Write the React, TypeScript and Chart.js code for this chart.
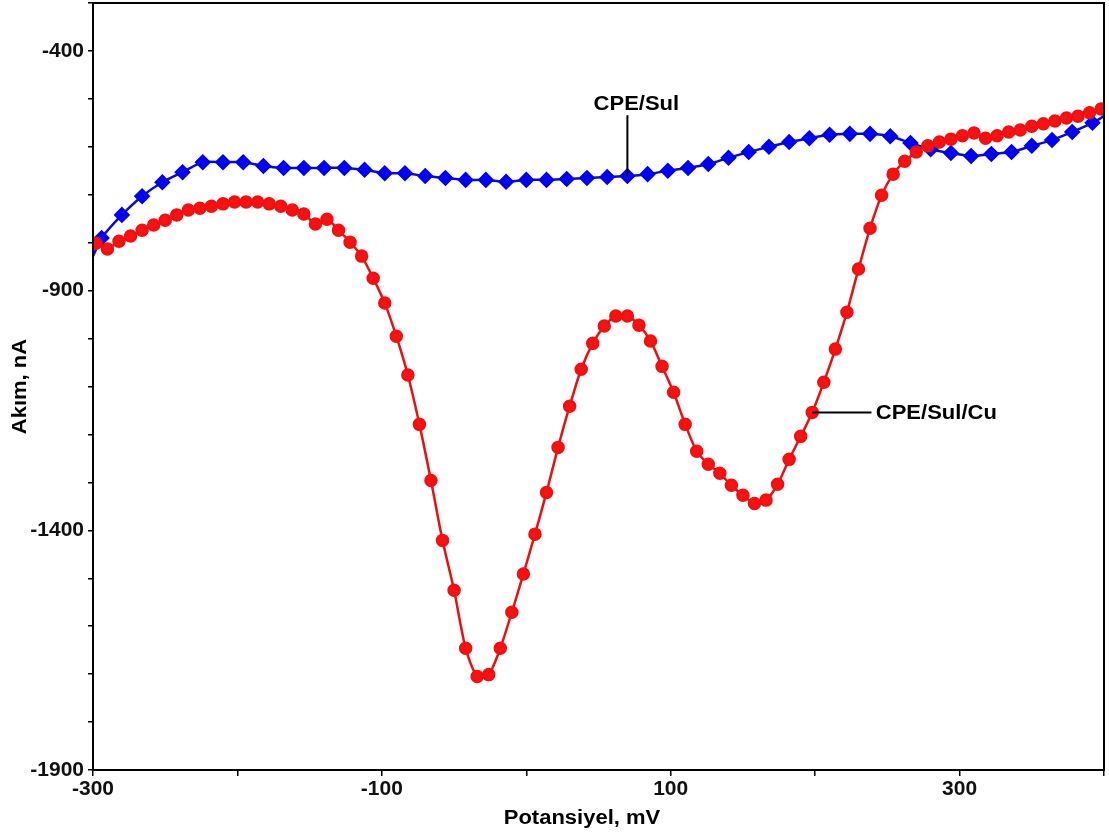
import React, { useEffect, useRef } from "react";
import { Chart, registerables } from "chart.js";

Chart.register(...registerables);

// CPE/Sul/Cu (red, circles)
const cuX = [
  -298, -290, -282, -274, -266, -258, -250, -242, -234, -226, -218, -210, -202, -194, -186, -178, -170, -162, -154, -146,
  -138, -130, -122, -114, -106, -98, -90, -82, -74, -66, -58, -50, -42, -34, -26, -18, -10, -2, 6, 14,
  22, 30, 38, 46, 54, 62, 70, 78, 86, 94, 102, 110, 118, 126, 134, 142, 150, 158, 166, 174,
  182, 190, 198, 206, 214, 222, 230, 238, 246, 254, 262, 270, 278, 286, 294, 302, 310, 318, 326, 334,
  342, 350, 358, 366, 374, 382, 390, 398,
];
const cuY = [
  -801, -813, -797, -786, -774, -763, -753, -742, -732, -728, -724, -719, -715, -715, -715, -719, -724, -732, -740, -761,
  -751, -774, -799, -828, -874, -926, -995, -1076, -1179, -1296, -1421, -1525, -1646, -1705, -1701, -1646, -1571, -1491, -1408, -1321,
  -1227, -1141, -1064, -1010, -974, -953, -953, -972, -1005, -1058, -1112, -1179, -1235, -1262, -1281, -1306, -1327, -1344, -1337, -1304,
  -1252, -1204, -1154, -1091, -1022, -945, -855, -770, -701, -657, -630, -611, -598, -590, -584, -577, -571, -582, -577, -569,
  -565, -557, -552, -546, -540, -536, -529, -521,
];

// CPE/Sul (blue, diamonds)
const sulX = [
  -300, -294, -280, -266, -252, -238, -224, -210, -196, -182, -168, -154, -140, -126, -112, -98, -84, -70, -56, -42,
  -28, -14, 0, 14, 28, 42, 56, 70, 84, 98, 112, 126, 140, 154, 168, 182, 196, 210, 224, 238,
  252, 266, 280, 294, 308, 322, 336, 350, 364, 378, 392, 400,
];
const sulY = [
  -828, -790, -742, -703, -674, -653, -632, -632, -632, -640, -644, -644, -644, -644, -648, -655, -655, -661, -665, -669,
  -669, -673, -669, -669, -667, -665, -663, -661, -657, -650, -644, -636, -623, -611, -600, -590, -582, -575, -573, -573,
  -578, -592, -605, -613, -619, -615, -611, -598, -586, -569, -550, -536,
];

const xLabeled = [-300, -100, 100, 300];
const yLabeled = [-400, -900, -1400, -1900];

const xTitle = "Potansiyel, mV";
const yTitle = "Akım, nA";
const sulLabel = "CPE/Sul";
const cuLabel = "CPE/Sul/Cu";

const FONT = '"Liberation Sans", Arial, sans-serif';

export default function App() {
  const ref = useRef<HTMLCanvasElement | null>(null);

  useEffect(() => {
    const canvas = ref.current;
    if (!canvas) return;

    const overlay = {
      id: "overlay",
      afterDraw(chart: any) {
        const ctx = chart.ctx;
        const a = chart.chartArea;
        const xs = chart.scales.x;
        const ys = chart.scales.y;
        ctx.save();
        // frame
        ctx.strokeStyle = "#000";
        ctx.lineWidth = 2;
        ctx.strokeRect(a.left, a.top, a.right - a.left, a.bottom - a.top);

        const stretchText = (t: string, cx: number, cy: number, size: number, rot = 0, align: CanvasTextAlign = "center") => {
          ctx.save();
          ctx.translate(cx, cy);
          if (rot) ctx.rotate(rot);
          ctx.scale(1.1, 1);
          ctx.font = `bold ${size}px ${FONT}`;
          ctx.fillStyle = "#000";
          ctx.textAlign = align;
          ctx.textBaseline = "middle";
          ctx.fillText(t, 0, 0);
          ctx.restore();
        };

        // CPE/Sul annotation
        const sx = xs.getPixelForValue(70);
        const sy = ys.getPixelForValue(-661);
        ctx.strokeStyle = "#000";
        ctx.lineWidth = 2;
        ctx.beginPath();
        ctx.moveTo(sx, sy);
        ctx.lineTo(sx, ys.getPixelForValue(-534));
        ctx.stroke();
        stretchText(sulLabel, sx + 9, ys.getPixelForValue(-511), 20);

        // CPE/Sul/Cu annotation
        const cx = xs.getPixelForValue(198);
        const cy = ys.getPixelForValue(-1154);
        ctx.beginPath();
        ctx.moveTo(cx, cy);
        ctx.lineTo(xs.getPixelForValue(239), cy);
        ctx.stroke();
        stretchText(cuLabel, xs.getPixelForValue(242), cy + 1, 20, 0, "left");

        // axis titles
        stretchText(xTitle, 582, 818, 20);
        stretchText(yTitle, 20, (a.top + a.bottom) / 2, 20, -Math.PI / 2);
        ctx.restore();
      },
    };

    const lastSul = sulX.length - 1;

    const chart = new Chart(canvas, {
      type: "line",
      data: {
        datasets: [
          {
            label: cuLabel,
            data: cuX.map((x, i) => ({ x, y: cuY[i] })),
            borderColor: "#e81010",
            backgroundColor: "#ff0000",
            pointBackgroundColor: "#ff1010",
            pointBorderColor: "#f01010",
            borderWidth: 2.5,
            pointRadius: 5.5,
            pointStyle: "circle",
            tension: 0.25,
          },
          {
            label: sulLabel,
            data: sulX.map((x, i) => ({ x, y: sulY[i] })),
            borderColor: "#0a0ad0",
            backgroundColor: "#0000ff",
            pointBackgroundColor: "#0000ff",
            pointBorderColor: "#0000f0",
            borderWidth: 2.5,
            pointRadius: (c: any) => (c.dataIndex === 0 || c.dataIndex === lastSul ? 0 : 6.5),
            pointStyle: "rectRot",
            tension: 0.25,
          },
        ],
      },
      options: {
        animation: false,
        responsive: false,
        layout: { autoPadding: false, padding: { left: 0, top: 3, right: 5, bottom: 0 } },
        plugins: {
          legend: { display: false },
          tooltip: { enabled: false },
          title: { display: false },
        },
        scales: {
          x: {
            type: "linear",
            min: -300,
            max: 400,
            grid: { drawOnChartArea: false, drawTicks: true, tickLength: 6, color: "#000", lineWidth: 1.5 },
            border: { display: true, color: "#000", width: 2 },
            ticks: {
              stepSize: 100,
              autoSkip: false,
              maxRotation: 0,
              padding: 1,
              color: "#111",
              font: { family: FONT, size: 21, weight: "bold" },
              callback: (v: any) => (xLabeled.includes(Number(v)) ? String(v) : ""),
            },
            afterFit: (s: any) => {
              s.height = 66;
              s.paddingLeft = 0;
              s.paddingRight = 0;
            },
          },
          y: {
            type: "linear",
            min: -1900,
            max: -300,
            grid: { drawOnChartArea: false, drawTicks: true, tickLength: 5, color: "#000", lineWidth: 1.5 },
            border: { display: true, color: "#000", width: 2 },
            ticks: {
              stepSize: 100,
              autoSkip: false,
              padding: 4,
              color: "#111",
              font: { family: FONT, size: 21, weight: "bold" },
              callback: (v: any) => (yLabeled.includes(Number(v)) ? String(v) : ""),
            },
            afterFit: (s: any) => {
              s.width = 93;
              s.paddingTop = 0;
              s.paddingBottom = 0;
            },
          },
        },
      },
      plugins: [overlay],
    });

    return () => chart.destroy();
  }, []);

  return (
    <div style={{ position: "fixed", left: 0, top: 0, width: 1109, height: 836, background: "#fff" }}>
      <canvas ref={ref} width={1109} height={836} style={{ display: "block" }} />
    </div>
  );
}
